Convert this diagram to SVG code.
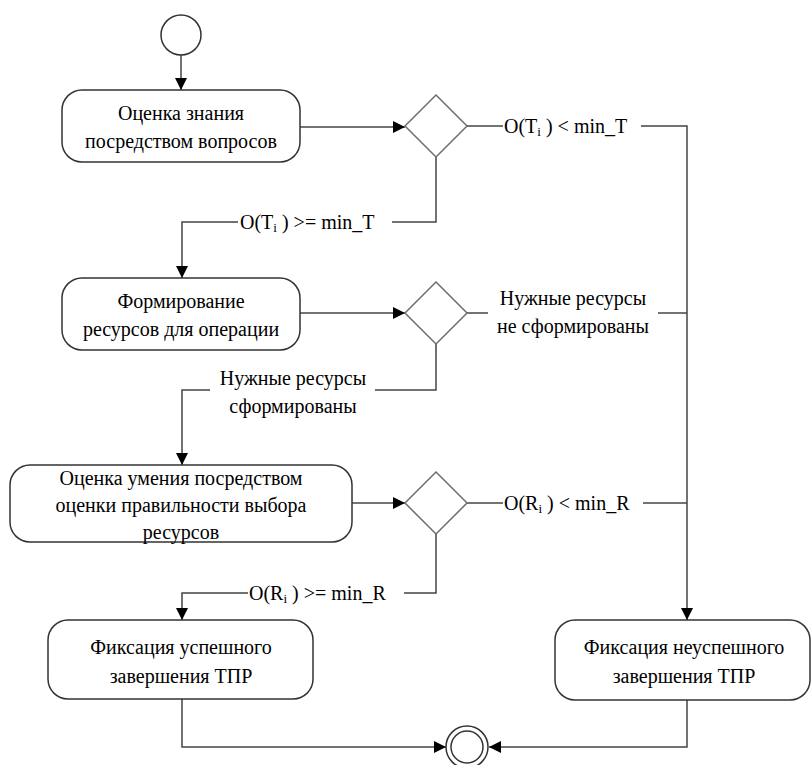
<svg xmlns="http://www.w3.org/2000/svg" width="812" height="765" viewBox="0 0 812 765" font-family="Liberation Serif, Times New Roman, serif">
  <defs>
    <marker id="arrow" viewBox="0 0 12 12" refX="12" refY="6" markerWidth="12" markerHeight="12" markerUnits="userSpaceOnUse" orient="auto">
      <path d="M0,0 L12,6 L0,12 Z" fill="#000"/>
    </marker>
    <style>
      .box { fill: #fff; stroke: #333; stroke-width: 1.5; }
      .dec { fill: #fff; stroke: #6e6e6e; stroke-width: 1.5; }
      .ev { fill: #fff; stroke: #333; stroke-width: 1.5; }
      .ln { fill: none; stroke: #444; stroke-width: 1.5; }
      .arr { marker-end: url(#arrow); }
      text { font-size: 20px; fill: #000; }
      .c { text-anchor: middle; }
      .sub { font-size: 13px; }
    </style>
  </defs>

  <!-- connectors -->
  <g id="connectors">
    <path class="ln arr" d="M181,55 V90"/>
    <path class="ln arr" d="M300,127 H405"/>
    <path class="ln" d="M467,126 H503"/>
    <path class="ln" d="M641,126 H687 V300"/>
    <path class="ln" d="M436,157 V222 H392"/>
    <path class="ln arr" d="M238,222 H182 V278"/>
    <path class="ln arr" d="M300,313 H405"/>
    <path class="ln" d="M467,313 H488"/>
    <path class="ln" d="M658,313 H687"/>
    <path class="ln" d="M436,344 V390 H375"/>
    <path class="ln arr" d="M210,390 H182 V465"/>
    <path class="ln arr" d="M352,503 H405"/>
    <path class="ln" d="M467,503 H503"/>
    <path class="ln" d="M643,503 H687"/>
    <path class="ln arr" d="M687,300 V620"/>
    <path class="ln" d="M436,533 V593 H404"/>
    <path class="ln arr" d="M248,593 H182 V620"/>
    <path class="ln arr" d="M182,699 V747 H446"/>
    <path class="ln arr" d="M687,700 V747 H489"/>
  </g>

  <!-- guard labels -->
  <g id="guards">
    <text x="504" y="133">O(T<tspan class="sub" dy="3">i</tspan><tspan dy="-3"> ) &lt; min_T</tspan></text>
    <text x="240" y="229">O(T<tspan class="sub" dy="3">i</tspan><tspan dy="-3"> ) &gt;= min_T</tspan></text>
    <text class="c" x="573" y="305">Нужные ресурсы</text>
    <text class="c" x="573" y="333">не сформированы</text>
    <text class="c" x="293" y="385">Нужные ресурсы</text>
    <text class="c" x="293" y="413">сформированы</text>
    <text x="504" y="510">O(R<tspan class="sub" dy="3">i</tspan><tspan dy="-3"> ) &lt; min_R</tspan></text>
    <text x="249" y="600">O(R<tspan class="sub" dy="3">i</tspan><tspan dy="-3"> ) &gt;= min_R</tspan></text>
  </g>

  <g id="start">
    <circle class="ev" cx="181" cy="35" r="20"/>
  </g>

  <g id="assess-knowledge">
    <rect class="box" x="62" y="90" width="238" height="72" rx="20"/>
    <text class="c" x="181" y="120">Оценка знания</text>
    <text class="c" x="181" y="148">посредством вопросов</text>
  </g>

  <g id="decision-knowledge">
    <polygon class="dec" points="436,95 467,126 436,157 405,126"/>
  </g>

  <g id="form-resources">
    <rect class="box" x="62" y="278" width="238" height="72" rx="20"/>
    <text class="c" x="181" y="308">Формирование</text>
    <text class="c" x="181" y="336">ресурсов для операции</text>
  </g>

  <g id="decision-resources">
    <polygon class="dec" points="436,282 467,313 436,344 405,313"/>
  </g>

  <g id="assess-skill">
    <rect class="box" x="10" y="465" width="342" height="77" rx="20"/>
    <text class="c" x="181" y="485">Оценка умения посредством</text>
    <text class="c" x="181" y="512">оценки правильности выбора</text>
    <text class="c" x="181" y="539">ресурсов</text>
  </g>

  <g id="decision-skill">
    <polygon class="dec" points="436,472 467,503 436,534 405,503"/>
  </g>

  <g id="success">
    <rect class="box" x="48" y="620" width="265" height="79" rx="20"/>
    <text class="c" x="181" y="654">Фиксация успешного</text>
    <text class="c" x="181" y="683">завершения ТПР</text>
  </g>

  <g id="failure">
    <rect class="box" x="555" y="620" width="255" height="80" rx="20"/>
    <text class="c" x="684" y="654">Фиксация неуспешного</text>
    <text class="c" x="684" y="683">завершения ТПР</text>
  </g>

  <g id="end">
    <circle class="ev" cx="467" cy="747" r="21"/>
    <circle class="ev" cx="467" cy="747" r="16"/>
  </g>
</svg>
